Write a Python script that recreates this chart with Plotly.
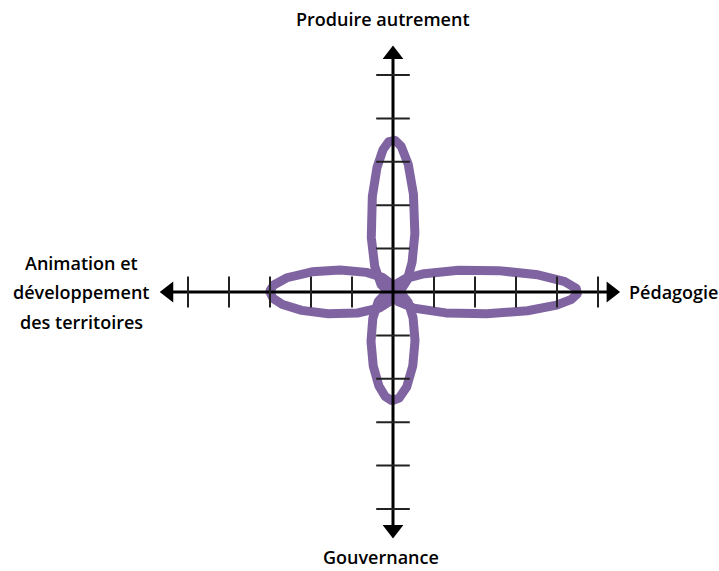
import numpy as np
import plotly.graph_objects as go

# axes of the diagram (direction, label) and petal lengths in tick units
axis_labels = ["Produire autrement", "Pédagogie", "Gouvernance", "Animation et<br>développement<br>des territoires"]
axis_dirs = [(0, 1), (1, 0), (0, -1), (-1, 0)]
petal_values = [3.5, 4.5, 2.5, 3.0]
tick_positions = [1, 2, 3, 4, 5]
axis_ends = [5.65, 5.5, 5.65, 5.65]

PURPLE = "#8064A2"
W, H = 719, 571
X0, Y0 = 393, 292        # origin in pixels
UX, UY = 41.0, 43.4      # pixels per tick unit
PETAL_HALF = 22          # petal half width in px

fig = go.Figure()

# petals
t = np.linspace(0, 1, 600)
a, b = 0.4, 0.5
prof = t**a * (1 - t)**b
prof = prof / prof.max()
for (dx, dy), val in zip(axis_dirs, petal_values):
    if dx != 0:
        along = dx * val * t
        across = PETAL_HALF / UY * prof
        xs = np.concatenate([along, along[::-1]])
        ys = np.concatenate([across, -across[::-1]])
    else:
        along = dy * val * t
        across = PETAL_HALF / UX * prof
        ys = np.concatenate([along, along[::-1]])
        xs = np.concatenate([across, -across[::-1]])
    fig.add_trace(go.Scatter(x=xs, y=ys, mode="lines",
                             line=dict(color=PURPLE, width=9),
                             hoverinfo="skip", showlegend=False))

# axis lines
for (dx, dy), end in zip(axis_dirs, axis_ends):
    fig.add_trace(go.Scatter(x=[0, dx * (end - 0.25)], y=[0, dy * (end - 0.25)], mode="lines",
                             line=dict(color="black", width=3),
                             hoverinfo="skip", showlegend=False))

# ticks
tick_x = [d * p for d in (-1, 1) for p in tick_positions]
fig.add_trace(go.Scatter(x=tick_x, y=[0] * len(tick_x), mode="markers",
                         marker=dict(symbol="line-ns", size=22,
                                     line=dict(color="#222222", width=2)),
                         hoverinfo="skip", showlegend=False))
tick_y = [d * p for d in (-1, 1) for p in tick_positions]
fig.add_trace(go.Scatter(x=[0] * len(tick_y), y=tick_y, mode="markers",
                         marker=dict(symbol="line-ew", size=24,
                                     line=dict(color="#222222", width=2)),
                         hoverinfo="skip", showlegend=False))

# arrow heads
symbols = ["triangle-up", "triangle-right", "triangle-down", "triangle-left"]
for (dx, dy), end, sym in zip(axis_dirs, axis_ends, symbols):
    off = 0.18
    fig.add_trace(go.Scatter(x=[dx * (end - off)], y=[dy * (end - off)], mode="markers",
                             marker=dict(symbol=sym, size=18, color="black"),
                             hoverinfo="skip", showlegend=False))

font = dict(family="Open Sans", size=18, color="black", weight=600)
fig.add_annotation(x=0, y=(Y0 - 19) / UY, xshift=-10, text=axis_labels[0],
                   showarrow=False, font=font, xanchor="center", yanchor="middle")
fig.add_annotation(x=(627 - X0) / UX, y=0, text=axis_labels[1],
                   showarrow=False, font=font, xanchor="left", yanchor="middle")
fig.add_annotation(x=0, y=(Y0 - 557) / UY, xshift=-12, text=axis_labels[2],
                   showarrow=False, font=font, xanchor="center", yanchor="middle")
# left label, one annotation per line for the wider line spacing
for i, line in enumerate(axis_labels[3].split("<br>")):
    fig.add_annotation(x=(81 - X0) / UX, y=0, yshift=(1 - i) * 29.5, text=line,
                       showarrow=False, font=font, xanchor="center", yanchor="middle")

fig.update_layout(
    width=W, height=H,
    margin=dict(l=0, r=0, t=0, b=0),
    paper_bgcolor="white", plot_bgcolor="white",
    xaxis=dict(range=[-X0 / UX, (W - X0) / UX], visible=False, fixedrange=True),
    yaxis=dict(range=[(Y0 - H) / UY, Y0 / UY], visible=False, fixedrange=True),
)

fig.write_html("out.html", config={"displayModeBar": False},
               post_script="document.body.style.margin='0';")
